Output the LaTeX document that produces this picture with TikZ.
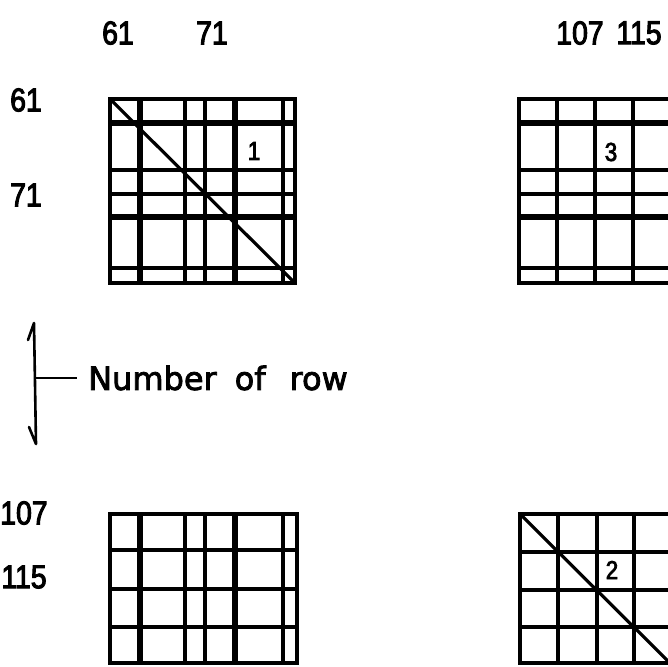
\documentclass[tikz,border=0pt]{standalone}
\usepackage{fontspec}
\setmainfont{Liberation Sans}
\newfontfamily\digfont[FakeBold=3, FakeStretch=0.86]{Liberation Sans}
\newfontfamily\txtfont[FakeBold=2.5]{DejaVu Sans}
\begin{document}
\begin{tikzpicture}[x=1pt,y=-1pt,
  thinl/.style={line width=3.2pt},
  thickl/.style={line width=6.5pt},
  lbl/.style={font=\digfont\fontsize{33}{38}\selectfont, inner sep=0pt},
  cellnum/.style={font=\digfont\fontsize{26}{30}\selectfont, inner sep=0pt},
  bracket/.style={line width=2.6pt, line cap=round, line join=round}]
\useasboundingbox (0,0) rectangle (668,666);

% ---- labels ----
\node[lbl] (c61) at (118,33) {61};
\node[lbl] (c71) at (212,33) {71};
\node[lbl] (c107) at (580,33) {107};
\node[lbl] (c115) at (639,33) {115};
\node[lbl] (r61) at (26,100) {61};
\node[lbl] (r71) at (26,195) {71};
\node[lbl] (r107) at (24,513) {107};
\node[lbl] (r115) at (24,577) {115};

% ---- block 1 (top left) ----
\draw[thinl] (110,99) rectangle (295,283);
\foreach \x in {185,205,283} \draw[thinl] (\x,99) -- (\x,283);
\foreach \x in {140,235} \draw[thickl] (\x,99) -- (\x,283);
\foreach \y in {170,194,268} \draw[thinl] (110,\y) -- (295,\y);
\foreach \y in {123,217} \draw[thickl] (110,\y) -- (295,\y);
\draw[thinl] (110,99) -- (295,283);
\node[cellnum] (n1) at (254,151) {1};

% ---- block 3 (top right) ----
\draw[thinl] (519,99) rectangle (672,283);
\foreach \x in {557,595,633} \draw[thinl] (\x,99) -- (\x,283);
\foreach \y in {170,194,268} \draw[thinl] (519,\y) -- (672,\y);
\foreach \y in {123,217} \draw[thickl] (519,\y) -- (672,\y);
\node[cellnum] (n3) at (611,152) {3};

% ---- block bottom left ----
\draw[thinl] (110,514) rectangle (297,663);
\foreach \x in {185,205,283} \draw[thinl] (\x,514) -- (\x,663);
\foreach \x in {140,235} \draw[thickl] (\x,514) -- (\x,663);
\foreach \y in {550,589,627} \draw[thinl] (110,\y) -- (297,\y);

% ---- block 2 (bottom right) ----
\draw[thinl] (520,514) rectangle (672,663);
\foreach \x in {558,597,634} \draw[thinl] (\x,514) -- (\x,663);
\foreach \y in {552,590,627} \draw[thinl] (520,\y) -- (672,\y);
\draw[thinl] (520,514) -- (671,664);
\node[cellnum] (n2) at (612,570) {2};

% ---- legend ----
\node[font=\txtfont\fontsize{32}{36}\selectfont, inner ysep=0pt, inner xsep=11pt, anchor=west]
  (lab) at (77,378) {Number\hspace{18pt}of\hspace{24pt}row};
\coordinate (btop) at (34,323);
\coordinate (bbot) at (36,444);
\coordinate (bmid) at (35,378);
\draw[bracket] (28,340) -- (btop) -- (bbot) -- (29,427);
\draw[line width=2pt] (bmid) -- (lab.west);
\end{tikzpicture}
\end{document}
